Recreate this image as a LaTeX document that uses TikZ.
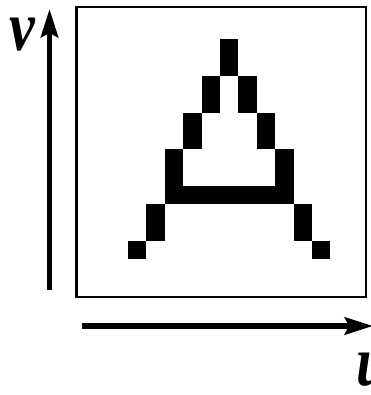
\documentclass[tikz,border=0pt]{standalone}
\usepackage{fontspec}
\setmainfont{Liberation Serif}
\usetikzlibrary{arrows.meta}
\begin{document}
\begin{tikzpicture}[x=1pt,y=-1pt,
  axis/.style={line width=5.8pt, -{Stealth[length=28pt,width=17pt,inset=4pt]}},
  frame/.style={draw=black, line width=2.2pt},
  cell/.style={fill=black},
  lbl/.style={font=\fontsize{58}{58}\selectfont\bfseries\itshape, inner sep=0pt, yscale=1.22}]
\useasboundingbox (0,0) rectangle (370,395);
\fill[white] (0,0) rectangle (370,395);
\draw[frame] (76.5,7) rectangle (366.3,297.3);
\foreach \c/\r/\h in {5/0/2, 4/2/2, 6/2/2, 3/4/2, 7/4/2, 2/6/2, 8/6/2, 1/9/2, 9/9/2, 0/11/1, 10/11/1}
  \fill[cell] (128+\c*18.4, 39.3+\r*18.33) rectangle ++(18.4, \h*18.33);
\fill[cell] (128+2*18.4, 39.3+8*18.33) rectangle ++(7*18.4, 18.33);
\coordinate (vs) at (49.5,290);
\coordinate (ve) at (49.5,9);
\draw[axis] (vs) -- (ve);
\coordinate (hs) at (81.7,326);
\coordinate (he) at (373,326);
\draw[axis] (hs) -- (he);
\node[lbl] (v) at (22,35) {v};
\node[lbl] (u) at (373,370) {u};
\end{tikzpicture}
\end{document}
